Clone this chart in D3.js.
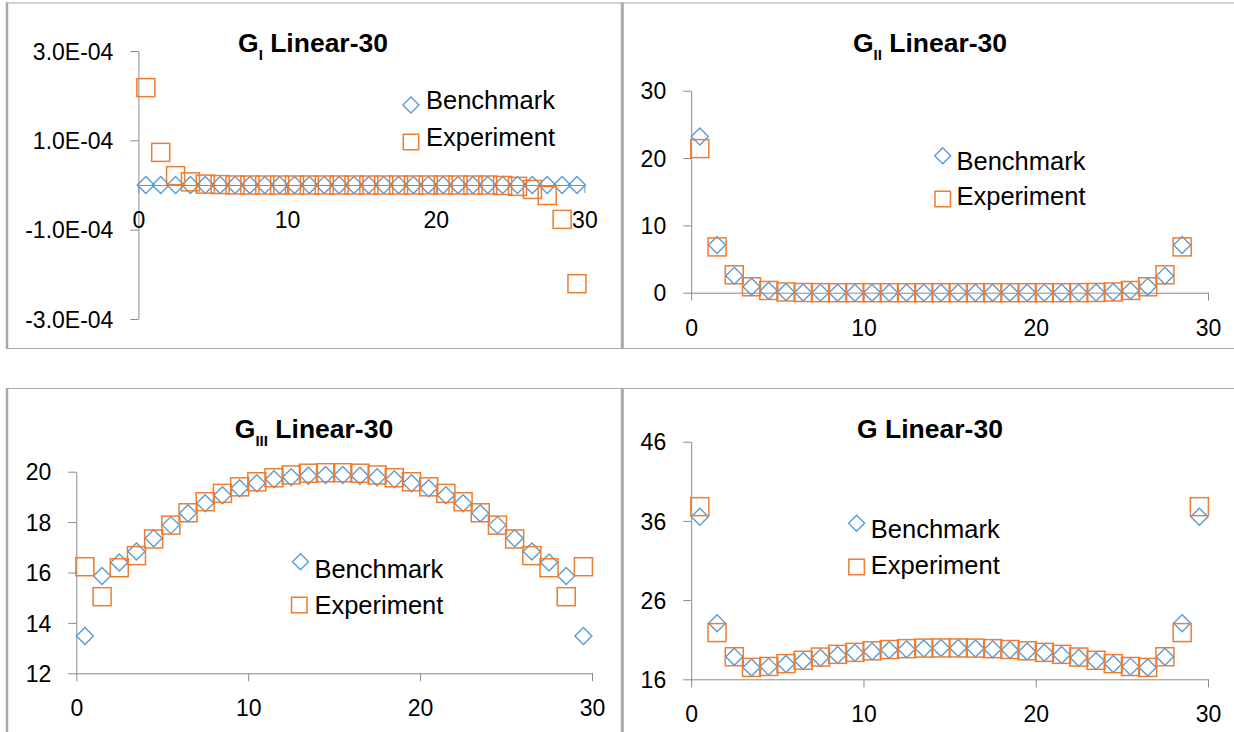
<!DOCTYPE html>
<html><head><meta charset="utf-8">
<script src="https://cdn.jsdelivr.net/npm/d3@7"></script>
<style>html,body{margin:0;padding:0;background:#fff;} svg{display:block;}</style>
</head><body>
<svg id="c" width="1234" height="732"></svg>
<script>
// ---------- data ----------
const xPos = [0.5,1.5,2.5,3.5,4.5,5.5,6.5,7.5,8.5,9.5,10.5,11.5,12.5,13.5,14.5,15.5,16.5,17.5,18.5,19.5,20.5,21.5,22.5,23.5,24.5,25.5,26.5,27.5,28.5,29.5];
const xPosGII = [0.5,1.5,2.5,3.5,4.5,5.5,6.5,7.5,8.5,9.5,10.5,11.5,12.5,13.5,14.5,15.5,16.5,17.5,18.5,19.5,20.5,21.5,22.5,23.5,24.5,25.5,26.5,27.5,28.5];
const xTickValues = [0,10,20,30];
const xTickLabels = ["0","10","20","30"];
const seriesNames = ["Benchmark","Experiment"];

const gIBench = [0,0,0,0,0,0,0,0,0,0,0,0,0,0,0,0,0,0,0,0,0,0,0,0,0,0,0,0,0,0];
const gIExp = [2.18e-4,7.3e-5,2.1e-5,7e-6,2e-6,1e-6,0,0,0,0,0,0,0,0,0,0,0,0,0,0,0,0,0,0,-1e-6,-3e-6,-1e-5,-2.35e-5,-7.7e-5,-2.21e-4];
const gITicks = [-3e-4,-1e-4,1e-4,3e-4];
const gITickLabels = ["-3.0E-04","-1.0E-04","1.0E-04","3.0E-04"];

const gIIBench = [23.2,7.1,2.5,0.9,0.3,0.1,0.03,0.01,0,0,0,0,0,0,0,0,0,0,0,0,0,0,0.01,0.03,0.1,0.3,0.9,2.5,7.1];
const gIIExp = [21.4,6.8,2.66,0.88,0.33,0.11,0.03,0.01,0,0,0,0,0,0,0,0,0,0,0,0,0,0,0.01,0.03,0.11,0.33,0.88,2.66,6.8];
const gIITicks = [0,10,20,30];
const gIITickLabels = ["0","10","20","30"];

const gIIIBench = [13.48,15.86,16.4,16.83,17.36,17.88,18.35,18.75,19.07,19.34,19.54,19.70,19.78,19.84,19.87,19.87,19.84,19.78,19.70,19.54,19.34,19.07,18.75,18.35,17.88,17.36,16.83,16.4,15.86,13.48];
const gIIIExp = [16.23,15.04,16.19,16.67,17.33,17.88,18.37,18.81,19.14,19.4,19.6,19.76,19.87,19.94,19.96,19.96,19.94,19.87,19.76,19.6,19.4,19.14,18.81,18.37,17.88,17.33,16.67,16.19,15.04,16.23];
const gIIITicks = [12,14,16,18,20];
const gIIITickLabels = ["12","14","16","18","20"];

const gBench = [36.53,23.07,18.85,17.5,17.6,17.93,18.3,18.73,19.07,19.36,19.5,19.7,19.78,19.9,19.95,19.95,19.9,19.78,19.7,19.5,19.36,19.07,18.73,18.3,17.93,17.6,17.5,18.85,23.07,36.53];
const gExp = [37.8,21.9,18.85,17.5,17.62,17.98,18.4,18.81,19.15,19.4,19.6,19.76,19.87,19.94,19.96,19.96,19.94,19.87,19.76,19.6,19.4,19.15,18.81,18.4,17.98,17.62,17.5,18.85,21.9,37.8];
const gTicks = [16,26,36,46];
const gTickLabels = ["16","26","36","46"];

// ---------- styling ----------
const FONT = "'Liberation Sans', Arial, sans-serif";
const BLUE = "#5B9BD5", ORANGE = "#ED7D31", AXIS = "#8a8a8a", BORDER = "#a8a8a8";

const svg = d3.select("#c");

// frames
const fr = svg.append("g").attr("fill","none").attr("stroke",BORDER);
fr.append("line").attr("x1",6).attr("x2",1234).attr("y1",3).attr("y2",3).attr("stroke-width",1);
fr.append("line").attr("x1",6).attr("x2",1234).attr("y1",348.5).attr("y2",348.5).attr("stroke-width",1);
fr.append("line").attr("x1",6).attr("x2",1234).attr("y1",388.5).attr("y2",388.5).attr("stroke-width",1);
[[2.5,349],[388,732]].forEach(([a,b])=>{
  fr.append("line").attr("x1",7).attr("x2",7).attr("y1",a).attr("y2",b).attr("stroke-width",2.5);
  fr.append("line").attr("x1",622.3).attr("x2",622.3).attr("y1",a).attr("y2",b).attr("stroke-width",3);
});

function diamondPath(r){ return `M0,${-r}L${r},0L0,${r}L${-r},0Z`; }

function drawPanel(c){
  const x = d3.scaleLinear().domain([0,30]).range(c.xRange);
  const y = d3.scaleLinear().domain(c.yDomain).range(c.yRange);
  const g = svg.append("g");

  const ya = g.append("g").attr("transform",`translate(${x(0)},0)`)
    .call(d3.axisLeft(y).tickValues(c.yTicks).tickFormat((d,i)=>c.yLabels[i]).tickSize(8).tickSizeOuter(0));
  const xa = g.append("g").attr("transform",`translate(0,${y(c.xAxisAt)})`)
    .call(d3.axisBottom(x).tickValues(xTickValues).tickFormat((d,i)=>xTickLabels[i]).tickSize(8).tickSizeOuter(0));
  [ya,xa].forEach(a=>{
    a.attr("font-family",FONT).attr("font-size",23);
    a.select(".domain").attr("stroke",AXIS);
    a.selectAll(".tick line").attr("stroke",AXIS);
    a.selectAll("text").attr("fill","#000");
  });
  ya.selectAll("text").attr("x",-25).attr("dy","0.36em");
  xa.selectAll("text").attr("y",43).attr("dy","0");

  g.append("g").selectAll("path").data(c.bench).join("path")
    .attr("d",diamondPath(8.5))
    .attr("transform",(d,i)=>`translate(${x(c.xs[i])},${y(d)})`)
    .attr("fill","none").attr("stroke",BLUE).attr("stroke-width",1.4);
  g.append("g").selectAll("rect").data(c.exp).join("rect")
    .attr("x",(d,i)=>x(c.xs[i])-9).attr("y",d=>y(d)-9)
    .attr("width",18).attr("height",18)
    .attr("fill","none").attr("stroke",ORANGE).attr("stroke-width",1.5);

  // title
  const t = g.append("text").attr("x",c.title[0]).attr("y",c.title[1])
    .attr("text-anchor","middle").attr("font-family",FONT).attr("font-weight","bold").attr("font-size",26.5);
  t.append("tspan").text("G");
  if (c.sub){
    t.append("tspan").attr("font-size",15).attr("dy",8).text(c.sub);
    t.append("tspan").attr("dy",-8).text(" Linear-30");
  } else t.append("tspan").text(" Linear-30");

  // legend
  const L = c.legend;
  g.append("path").attr("d",diamondPath(8)).attr("transform",`translate(${L.dx},${L.dy})`)
    .attr("fill","none").attr("stroke",BLUE).attr("stroke-width",1.4);
  g.append("rect").attr("x",L.sx-7.75).attr("y",L.sy-7.75).attr("width",15.5).attr("height",15.5)
    .attr("fill","none").attr("stroke",ORANGE).attr("stroke-width",1.5);
  g.append("text").attr("x",L.tx).attr("y",L.b1).attr("font-family",FONT).attr("font-size",25.5).text(seriesNames[0]);
  g.append("text").attr("x",L.tx).attr("y",L.b2).attr("font-family",FONT).attr("font-size",25.5).text(seriesNames[1]);
}

drawPanel({xs:xPos, bench:gIBench, exp:gIExp, yDomain:[-3e-4,3e-4], yTicks:gITicks, yLabels:gITickLabels,
  xRange:[138.4,584.4], yRange:[319,51], xAxisAt:0, title:[313,52], sub:"I",
  legend:{dx:411,dy:105,sx:411,sy:142,tx:426,b1:109,b2:146}});
drawPanel({xs:xPosGII, bench:gIIBench, exp:gIIExp, yDomain:[0,30], yTicks:gIITicks, yLabels:gIITickLabels,
  xRange:[691.2,1208], yRange:[292.7,90.7], xAxisAt:0, title:[930,52], sub:"II",
  legend:{dx:942.7,dy:155.7,sx:942.7,sy:199,tx:956.5,b1:170,b2:204.5}});
drawPanel({xs:xPos, bench:gIIIBench, exp:gIIIExp, yDomain:[12,20], yTicks:gIIITicks, yLabels:gIIITickLabels,
  xRange:[76.3,592], yRange:[673.3,471.7], xAxisAt:12, title:[314,438.3], sub:"III",
  legend:{dx:300.5,dy:561.7,sx:299.3,sy:605,tx:314.4,b1:578.3,b2:613.5}});
drawPanel({xs:xPos, bench:gBench, exp:gExp, yDomain:[16,46], yTicks:gTicks, yLabels:gTickLabels,
  xRange:[691.2,1208], yRange:[679.3,441.7], xAxisAt:16, title:[930,438.3], sub:"",
  legend:{dx:856.6,dy:523.3,sx:856.6,sy:567,tx:870.8,b1:538.3,b2:573.5}});
</script>
</body></html>
